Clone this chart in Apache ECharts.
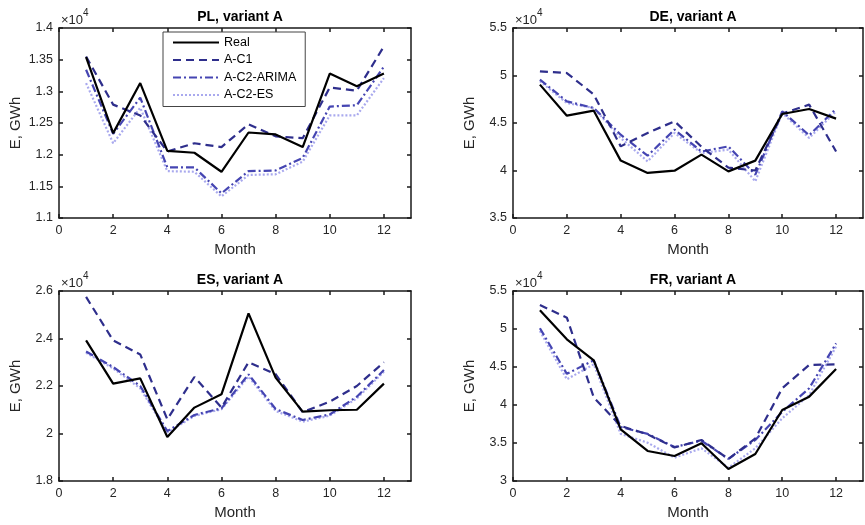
<!DOCTYPE html>
<html>
<head>
<meta charset="utf-8">
<script src="https://cdn.jsdelivr.net/npm/echarts@6/dist/echarts.min.js"></script>
<style>html,body{margin:0;padding:0;background:#fff}#c{width:865px;height:525px}</style>
</head>
<body>
<div id="c"></div>
<script>
// Values shown in units of 10^4 GWh
const months = [1,2,3,4,5,6,7,8,9,10,11,12];
const seriesNames = ['Real','A-C1','A-C2-ARIMA','A-C2-ES'];
const xTicks = [0,2,4,6,8,10,12];

const plTitle = 'PL, variant A';
const plReal  = [1.354,1.234,1.313,1.206,1.203,1.173,1.235,1.232,1.212,1.328,1.308,1.328];
const plC1    = [1.355,1.279,1.262,1.205,1.218,1.212,1.248,1.229,1.226,1.306,1.301,1.371];
const plArima = [1.334,1.233,1.290,1.180,1.180,1.139,1.174,1.175,1.195,1.276,1.278,1.339];
const plEs    = [1.313,1.218,1.274,1.174,1.173,1.134,1.168,1.169,1.189,1.262,1.262,1.321];
const plTicks = [1.1,1.15,1.2,1.25,1.3,1.35,1.4];

const deTitle = 'DE, variant A';
const deReal  = [4.904,4.577,4.630,4.104,3.974,3.998,4.167,3.991,4.104,4.595,4.647,4.546];
const deC1    = [5.044,5.026,4.800,4.254,4.395,4.518,4.250,4.030,4.000,4.600,4.693,4.200];
const deArima = [4.956,4.728,4.658,4.377,4.156,4.430,4.200,4.254,3.956,4.623,4.370,4.650];
const deEs    = [4.940,4.710,4.658,4.342,4.096,4.395,4.184,4.220,3.886,4.605,4.342,4.623];
const deTicks = [3.5,4,4.5,5,5.5];

const esTitle = 'ES, variant A';
const esReal  = [2.392,2.210,2.232,1.985,2.109,2.165,2.506,2.235,2.092,2.098,2.100,2.210];
const esC1    = [2.575,2.392,2.333,2.060,2.238,2.109,2.300,2.250,2.090,2.134,2.200,2.300];
const esArima = [2.345,2.280,2.200,2.010,2.078,2.106,2.249,2.103,2.057,2.080,2.155,2.267];
const esEs    = [2.340,2.274,2.190,2.004,2.074,2.102,2.240,2.095,2.050,2.075,2.148,2.260];
const esTicks = [1.8,2,2.2,2.4,2.6];

const frTitle = 'FR, variant A';
const frReal  = [5.246,4.864,4.588,3.680,3.395,3.329,3.496,3.158,3.355,3.934,4.110,4.474];
const frC1    = [5.316,5.149,4.100,3.724,3.614,3.440,3.540,3.290,3.560,4.220,4.526,4.535];
const frArima = [5.010,4.410,4.588,3.710,3.620,3.447,3.530,3.290,3.540,3.910,4.220,4.810];
const frEs    = [4.974,4.338,4.535,3.620,3.504,3.307,3.430,3.175,3.430,3.825,4.130,4.770];
const frTicks = [3,3.5,4,4.5,5,5.5];

const panels = [
  {title: plTitle, data: [plReal, plC1, plArima, plEs], ticks: plTicks, grid: {left: 59, top: 28, width: 352, height: 190}},
  {title: deTitle, data: [deReal, deC1, deArima, deEs], ticks: deTicks, grid: {left: 513, top: 28, width: 350, height: 190}},
  {title: esTitle, data: [esReal, esC1, esArima, esEs], ticks: esTicks, grid: {left: 59, top: 291, width: 352, height: 190}},
  {title: frTitle, data: [frReal, frC1, frArima, frEs], ticks: frTicks, grid: {left: 513, top: 291, width: 350, height: 190}}
];

const styles = [
  {color: '#000000', width: 2.2, type: 'solid'},
  {color: '#2e2e8c', width: 2.2, type: [8, 5]},
  {color: '#4545b2', width: 2.2, type: [8, 3, 2, 3]},
  {color: '#a9a9ee', width: 2.2, type: [2, 2]}
];

const FONT = '"Liberation Sans", Arial, Helvetica, sans-serif';
const grids = [], xAxes = [], yAxes = [], series = [], titles = [], graphics = [];

panels.forEach((p, i) => {
  grids.push(Object.assign({containLabel: false, show: false}, p.grid));
  const lineStyle = {color: '#1a1a1a', width: 1.5};
  const ymin = p.ticks[0], ymax = p.ticks[p.ticks.length - 1];
  xAxes.push({
    type: 'value', gridIndex: i, min: 0, max: 13, position: 'bottom',
    axisLine: {show: true, onZero: false, lineStyle},
    axisTick: {show: true, inside: true, length: 4, customValues: xTicks, lineStyle},
    axisLabel: {customValues: xTicks, color: '#262626', fontSize: 12.5, fontFamily: FONT, margin: 6},
    splitLine: {show: false},
    name: 'Month', nameLocation: 'middle', nameGap: 24,
    nameTextStyle: {color: '#262626', fontSize: 15, fontFamily: FONT}
  });
  xAxes.push({
    type: 'value', gridIndex: i, min: 0, max: 13, position: 'top',
    axisLine: {show: true, onZero: false, lineStyle},
    axisTick: {show: true, inside: true, length: 4, customValues: xTicks, lineStyle},
    axisLabel: {show: false}, splitLine: {show: false}
  });
  yAxes.push({
    type: 'value', gridIndex: i, min: ymin, max: ymax, position: 'left',
    axisLine: {show: true, onZero: false, lineStyle},
    axisTick: {show: true, inside: true, length: 4, customValues: p.ticks, lineStyle},
    axisLabel: {customValues: p.ticks, color: '#262626', fontSize: 12.5, fontFamily: FONT, margin: 6},
    splitLine: {show: false},
    name: 'E, GWh', nameLocation: 'middle', nameGap: 36, nameRotate: 90,
    nameTextStyle: {color: '#262626', fontSize: 15, fontFamily: FONT}
  });
  yAxes.push({
    type: 'value', gridIndex: i, min: ymin, max: ymax, position: 'right',
    axisLine: {show: true, onZero: false, lineStyle},
    axisTick: {show: true, inside: true, length: 4, customValues: p.ticks, lineStyle},
    axisLabel: {show: false}, splitLine: {show: false}
  });
  titles.push({
    text: p.title, left: p.grid.left + p.grid.width / 2, top: p.grid.top - 23, textAlign: 'center',
    textStyle: {fontSize: 14, fontWeight: 'bold', color: '#000', fontFamily: FONT}
  });
  graphics.push({
    type: 'text', left: p.grid.left + 2, top: p.grid.top - 20,
    style: {
      text: '{a|×10}{b|4}',
      rich: {
        a: {fontSize: 13, fill: '#262626', fontFamily: FONT, verticalAlign: 'bottom', padding: [6, 0, 0, 0]},
        b: {fontSize: 10, fill: '#262626', fontFamily: FONT, verticalAlign: 'top', padding: [0, 0, 7, 0]}
      }
    }
  });
  p.data.forEach((vals, k) => {
    series.push({
      name: seriesNames[k], type: 'line', xAxisIndex: 2 * i, yAxisIndex: 2 * i,
      data: months.map((m, j) => [m, vals[j]]),
      symbol: 'none', animation: false, z: 10 - k,
      lineStyle: {color: styles[k].color, width: styles[k].width, type: styles[k].type},
      itemStyle: {color: styles[k].color}
    });
  });
});

const chart = echarts.init(document.getElementById('c'), null, {renderer: 'canvas'});
chart.setOption({
  backgroundColor: '#fff',
  animation: false,
  title: titles,
  grid: grids,
  xAxis: xAxes,
  yAxis: yAxes,
  series: series,
  graphic: graphics,
  legend: {
    show: true,
    data: seriesNames, orient: 'vertical', left: 163, top: 32,
    backgroundColor: '#fff', borderColor: '#444', borderWidth: 1,
    padding: [4, 9, 5, 9], itemGap: 4.5, itemWidth: 46, itemHeight: 13,
    selectedMode: false,
    itemStyle: {opacity: 0, borderWidth: 0},
    textStyle: {fontSize: 12.5, color: '#000', fontFamily: FONT}
  }
});
</script>
</body>
</html>
